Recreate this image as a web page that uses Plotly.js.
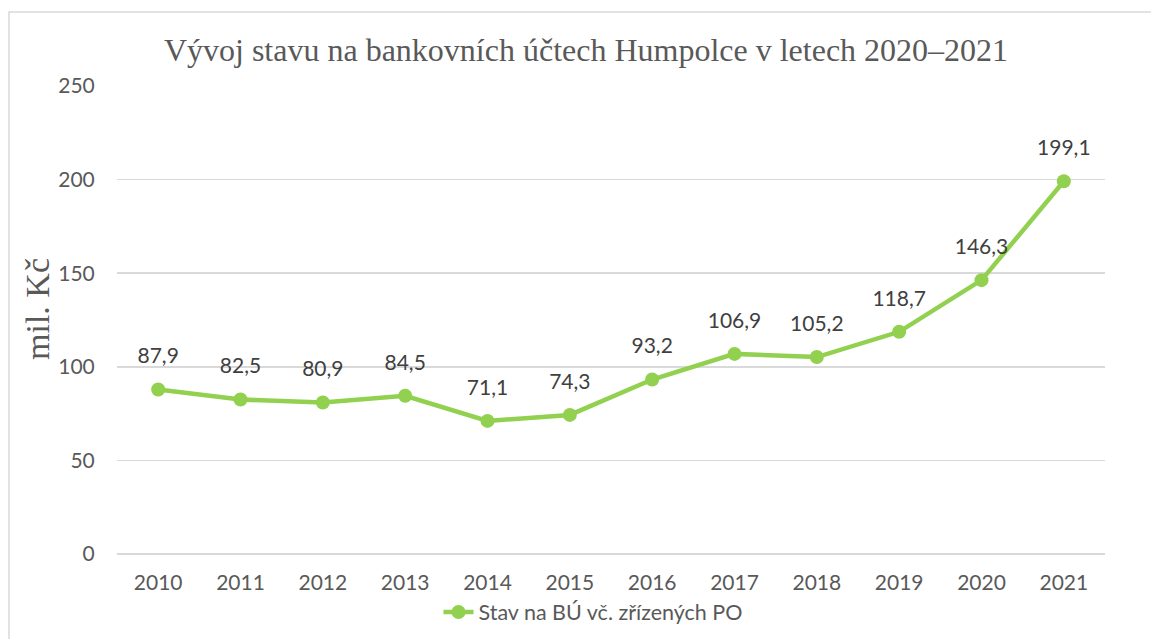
<!DOCTYPE html>
<html>
<head>
<meta charset="utf-8">
<script src="https://cdn.plot.ly/plotly-3.0.1.min.js"></script>
<style>html,body{margin:0;padding:0;background:#fff;}#chart{width:1151px;height:639px;}</style>
</head>
<body>
<div id="chart"></div>
<script>
const years = ['2010','2011','2012','2013','2014','2015','2016','2017','2018','2019','2020','2021'];
const values = [87.9, 82.5, 80.9, 84.5, 71.1, 74.3, 93.2, 106.9, 105.2, 118.7, 146.3, 199.1];
const labels = values.map(v => v.toFixed(1).replace('.', ','));
const seriesName = 'Stav na BÚ vč. zřízených PO';
const titleText = 'Vývoj stavu na bankovních účtech Humpolce v letech 2020–2021';
const yTitle = 'mil. Kč';

const W = 1151, H = 639;
const m = {l: 117, r: 46, t: 86, b: 85};
const ph = H - m.t - m.b, pw = W - m.l - m.r;
const px = x => (x - m.l) / pw;
const py = y => (H - m.b - y) / ph;

const trace = {
  x: years, y: values, type: 'scatter', mode: 'lines+markers',
  name: seriesName,
  line: {color: '#92D050', width: 4.5},
  marker: {color: '#92D050', size: 14},
  cliponaxis: false
};

const labelTrace = {
  x: years, y: values, type: 'scatter', mode: 'markers+text',
  text: labels, textposition: 'top center', showlegend: false, hoverinfo: 'skip',
  marker: {color: 'rgba(0,0,0,0)', size: 32},
  textfont: {family: 'Lato, sans-serif', size: 21, color: '#404040'},
  cliponaxis: false
};

const layout = {
  width: W, height: H,
  margin: m,
  paper_bgcolor: '#fff', plot_bgcolor: '#fff',
  showlegend: true,
  title: {text: titleText, xref: 'container', x: 586 / W, xanchor: 'center', yref: 'container', y: 1 - 50 / H, yanchor: 'middle',
          font: {family: '"Liberation Serif", serif', size: 32, color: '#595959'}},
  xaxis: {type: 'category', range: [-0.5, 11.5], showgrid: false, zeroline: false, showline: false,
          ticks: 'outside', ticklen: 10, tickcolor: 'rgba(0,0,0,0)',
          tickfont: {family: 'Lato, sans-serif', size: 21, color: '#595959'}, fixedrange: true},
  yaxis: {range: [0, 250], dtick: 50, showgrid: true, gridcolor: '#D9D9D9', gridwidth: 1.5,
          zeroline: true, zerolinecolor: '#D9D9D9', zerolinewidth: 1.5, showline: false,
          ticks: 'outside', ticklen: 17, tickcolor: 'rgba(0,0,0,0)',
          tickfont: {family: 'Lato, sans-serif', size: 21, color: '#595959'}},
  legend: {orientation: 'h', x: px(593), xanchor: 'center', yref: 'container', y: 1 - 612 / H, yanchor: 'middle',
           font: {family: 'Lato, sans-serif', size: 21.5, color: '#595959'}, bgcolor: 'rgba(0,0,0,0)'},
  annotations: [{text: yTitle, xref: 'paper', yref: 'paper', x: px(37), y: py(309),
                 xanchor: 'center', yanchor: 'middle', textangle: -90, showarrow: false,
                 font: {family: '"Liberation Serif", serif', size: 34, color: '#595959'}}],
  shapes: [{type: 'rect', xref: 'paper', yref: 'paper', x0: px(9), x1: px(1160), y0: py(12), y1: py(660),
            line: {color: '#D9D9D9', width: 1.5}, fillcolor: 'rgba(0,0,0,0)', layer: 'below'}]
};

Plotly.newPlot('chart', [trace, labelTrace], layout, {displayModeBar: false, staticPlot: true});
</script>
</body>
</html>
